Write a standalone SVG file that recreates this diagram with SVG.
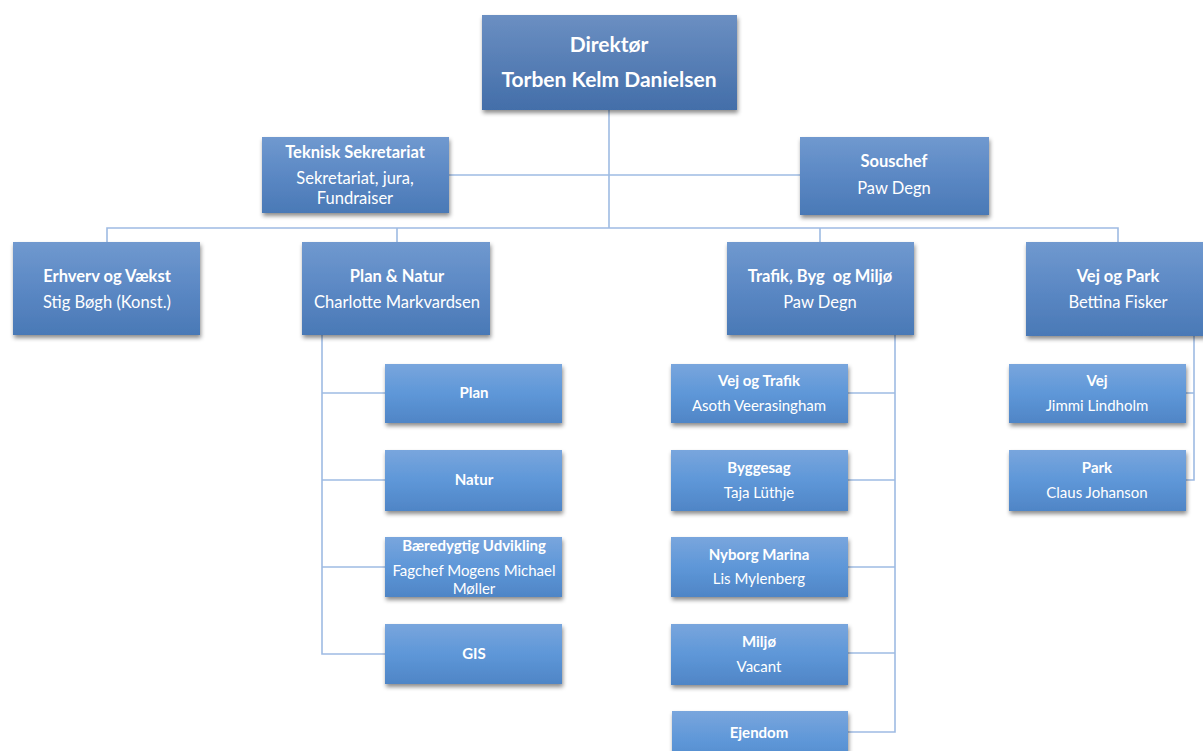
<svg xmlns="http://www.w3.org/2000/svg" width="1203" height="751" viewBox="0 0 1203 751">
<defs>
<linearGradient id="gTop" x1="0" y1="0" x2="0" y2="1"><stop offset="0" stop-color="#6b8fc2"/><stop offset="1" stop-color="#436ea9"/></linearGradient>
<linearGradient id="gMid" x1="0" y1="0" x2="0" y2="1"><stop offset="0" stop-color="#7099cf"/><stop offset="0.5" stop-color="#5b88c4"/><stop offset="1" stop-color="#4a79b6"/></linearGradient>
<linearGradient id="gLow" x1="0" y1="0" x2="0" y2="1"><stop offset="0" stop-color="#79a6dd"/><stop offset="0.5" stop-color="#5e97d8"/><stop offset="1" stop-color="#4f85c6"/></linearGradient>
<filter id="sh" x="-10%" y="-10%" width="125%" height="135%"><feDropShadow dx="1" dy="3" stdDeviation="2" flood-color="#000" flood-opacity="0.45"/></filter>
</defs>
<style>
.lv0{fill:url(#gTop);filter:url(#sh)}
.lv1{fill:url(#gMid);filter:url(#sh)}
.lv2{fill:url(#gLow);filter:url(#sh)}
text{font-family:Lato,"Open Sans","Liberation Sans",sans-serif;fill:#fff;text-anchor:middle;white-space:pre}
.b{font-weight:bold}
.t0{font-size:21px}
.t1{font-size:16.5px}
.t2{font-size:15px}
.con line,.con polyline{stroke:#9ebbe3;stroke-width:1.6;fill:none}
</style>
<g class="con">
<line x1="609" y1="110" x2="609" y2="228"/>
<line x1="449" y1="175" x2="800" y2="175"/>
<polyline points="107,242 107,228 1118,228 1118,242"/>
<line x1="397" y1="228" x2="397" y2="242"/>
<line x1="820" y1="228" x2="820" y2="242"/>
<polyline points="322,335 322,654 385,654"/>
<line x1="322" y1="393" x2="385" y2="393"/>
<line x1="322" y1="480" x2="385" y2="480"/>
<line x1="322" y1="567" x2="385" y2="567"/>
<polyline points="895,335 895,732 848,732"/>
<line x1="848" y1="393" x2="895" y2="393"/>
<line x1="848" y1="480" x2="895" y2="480"/>
<line x1="848" y1="567" x2="895" y2="567"/>
<line x1="848" y1="653" x2="895" y2="653"/>
<polyline points="1194,336 1194,480 1186,480"/>
<line x1="1186" y1="393" x2="1194" y2="393"/>
</g>
<g id="direktor"><rect class="lv0" x="482" y="15" width="255" height="95"/><text class="b t0" x="609" y="52">Direktør</text><text class="b t0" x="609" y="87">Torben Kelm Danielsen</text></g>
<g id="teknisk"><rect class="lv1" x="262" y="137" width="187" height="76"/><text class="b t1" x="355" y="158">Teknisk Sekretariat</text><text class="t1" x="355" y="184">Sekretariat, jura,</text><text class="t1" x="355" y="204">Fundraiser</text></g>
<g id="souschef"><rect class="lv1" x="800" y="137" width="189" height="78"/><text class="b t1" x="894" y="167">Souschef</text><text class="t1" x="894" y="194">Paw Degn</text></g>
<g id="erhverv"><rect class="lv1" x="13" y="242" width="187" height="93"/><text class="b t1" x="107" y="282">Erhverv og Vækst</text><text class="t1" x="107" y="308">Stig Bøgh (Konst.)</text></g>
<g id="plannatur"><rect class="lv1" x="302" y="242" width="188" height="93"/><text class="b t1" x="397" y="282">Plan &amp; Natur</text><text class="t1" x="397" y="308">Charlotte Markvardsen</text></g>
<g id="trafik"><rect class="lv1" x="727" y="242" width="187" height="93"/><text class="b t1" x="820" y="282">Trafik, Byg  og Miljø</text><text class="t1" x="820" y="308">Paw Degn</text></g>
<g id="vejpark"><rect class="lv1" x="1026" y="242" width="180" height="94"/><text class="b t1" x="1118" y="282">Vej og Park</text><text class="t1" x="1118" y="308">Bettina Fisker</text></g>
<g id="plan"><rect class="lv2" x="385" y="364" width="177" height="59"/><text class="b t2" x="474" y="398">Plan</text></g>
<g id="natur"><rect class="lv2" x="385" y="450" width="177" height="61"/><text class="b t2" x="474" y="485">Natur</text></g>
<g id="baeredygtig"><rect class="lv2" x="385" y="537" width="177" height="60"/><text class="b t2" x="474" y="551">Bæredygtig Udvikling</text><text class="t2" x="474" y="576">Fagchef Mogens Michael</text><text class="t2" x="474" y="594">Møller</text></g>
<g id="gis"><rect class="lv2" x="385" y="624" width="177" height="60"/><text class="b t2" x="474" y="659">GIS</text></g>
<g id="vejtrafik"><rect class="lv2" x="671" y="364" width="177" height="59"/><text class="b t2" x="759" y="386">Vej og Trafik</text><text class="t2" x="759" y="411">Asoth Veerasingham</text></g>
<g id="byggesag"><rect class="lv2" x="671" y="450" width="177" height="61"/><text class="b t2" x="759" y="473">Byggesag</text><text class="t2" x="759" y="498">Taja Lüthje</text></g>
<g id="nyborg"><rect class="lv2" x="671" y="537" width="177" height="60"/><text class="b t2" x="759" y="560">Nyborg Marina</text><text class="t2" x="759" y="584">Lis Mylenberg</text></g>
<g id="miljo"><rect class="lv2" x="671" y="624" width="177" height="61"/><text class="b t2" x="759" y="647">Miljø</text><text class="t2" x="759" y="672">Vacant</text></g>
<g id="ejendom"><rect class="lv2" x="672" y="711" width="176" height="60"/><text class="b t2" x="759" y="738">Ejendom</text></g>
<g id="vej"><rect class="lv2" x="1009" y="364" width="177" height="59"/><text class="b t2" x="1097" y="386">Vej</text><text class="t2" x="1097" y="411">Jimmi Lindholm</text></g>
<g id="park"><rect class="lv2" x="1009" y="450" width="177" height="61"/><text class="b t2" x="1097" y="473">Park</text><text class="t2" x="1097" y="498">Claus Johanson</text></g>
</svg>
